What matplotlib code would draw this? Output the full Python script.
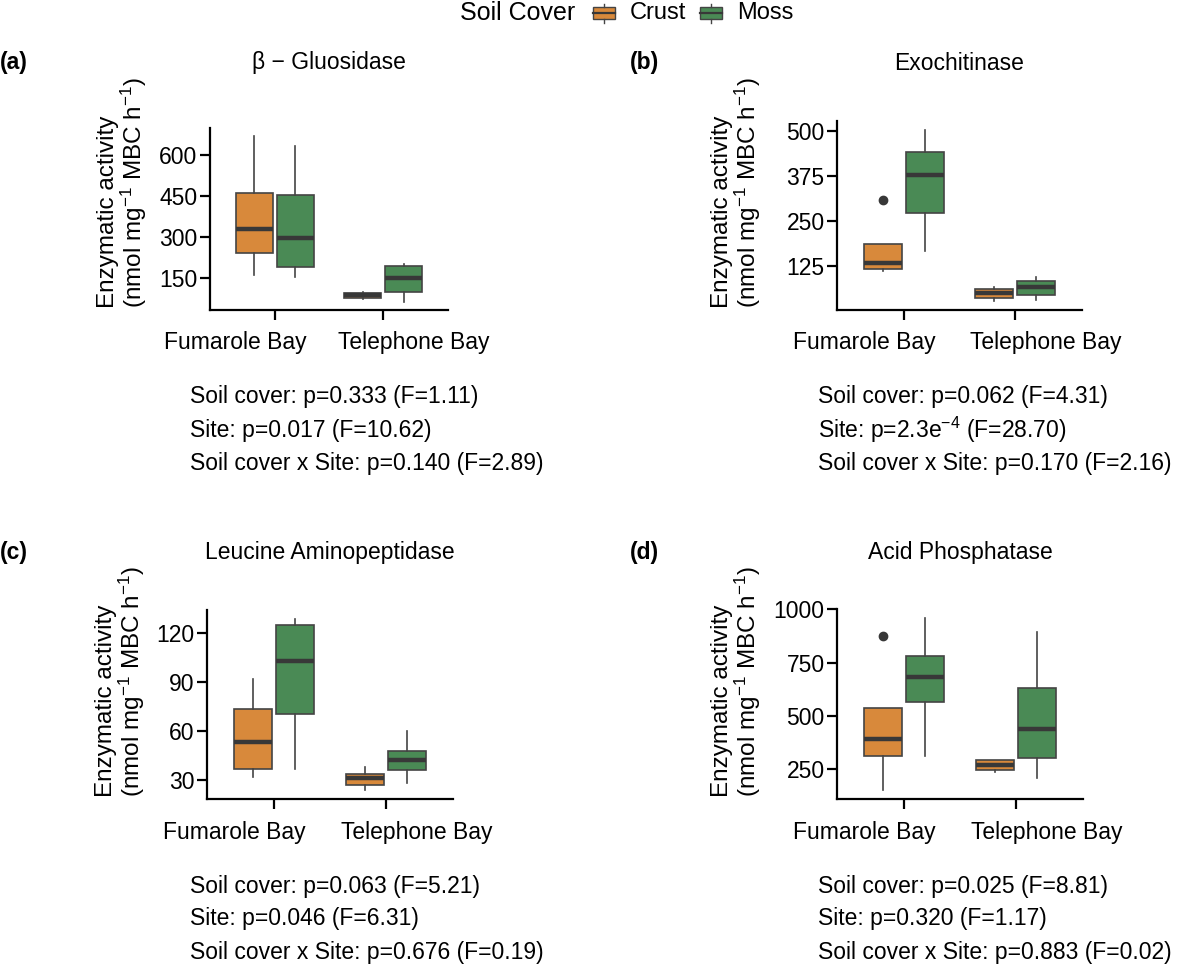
import matplotlib
matplotlib.use("Agg")
import matplotlib.pyplot as plt
from matplotlib.patches import Rectangle
from matplotlib.lines import Line2D

plt.rcParams.update({
    "font.family": ["Liberation Sans", "DejaVu Sans"],
    "mathtext.fontset": "custom", "mathtext.rm": "Liberation Sans",
    "mathtext.default": "regular",
    "axes.linewidth": 1.6,
    "figure.facecolor": "white",
})
CRUST = "#D8893B"; MOSS = "#4A8A55"; EDGE = "#444444"; MED = "#383838"

sites = ["Fumarole Bay", "Telephone Bay"]
covers = ["Crust", "Moss"]

# box stats per panel, order: Crust-Fum, Moss-Fum, Crust-Tel, Moss-Tel
# (whislo, q1, med, q3, whishi)
gluc_stats = [(160, 241, 329, 460, 670), (154, 188, 297, 455, 634),
              (72, 76, 85, 95, 98), (62, 97, 151, 193, 200)]
gluc_fliers = [[], [], [], []]
chit_stats = [(109, 116, 132, 186, 186), (165, 273, 379, 441, 505),
              (25, 34, 48, 60, 65), (28, 42, 65, 81.5, 93)]
chit_fliers = [[309], [], [], []]
leu_stats = [(31.6, 36.4, 52.8, 73.6, 91.8), (36.4, 70.3, 102.5, 125.1, 128.8),
             (23.4, 26.9, 31.0, 33.7, 37.8), (27.9, 36.0, 41.9, 47.7, 60.0)]
leu_fliers = [[], [], [], []]
phos_stats = [(152, 313, 393, 538, 538), (315, 567, 685, 781, 961),
              (239, 247, 270, 294, 294), (212, 305, 439, 630, 896)]
phos_fliers = [[874], [], [], []]

gluc_ticks = [150, 300, 450, 600]
chit_ticks = [125, 250, 375, 500]
leu_ticks = [30, 60, 90, 120]
phos_ticks = [250, 500, 750, 1000]

titles = ["β − Gluosidase", "Exochitinase", "Leucine Aminopeptidase", "Acid Phosphatase"]
tags = ["(a)", "(b)", "(c)", "(d)"]
stats_text = [
    ["Soil cover: p=0.333 (F=1.11)", "Site: p=0.017 (F=10.62)",
     "Soil cover x Site: p=0.140 (F=2.89)"],
    ["Soil cover: p=0.062 (F=4.31)", "Site: p=2.3e$^{-4}$ (F=28.70)",
     "Soil cover x Site: p=0.170 (F=2.16)"],
    ["Soil cover: p=0.063 (F=5.21)", "Site: p=0.046 (F=6.31)",
     "Soil cover x Site: p=0.676 (F=0.19)"],
    ["Soil cover: p=0.025 (F=8.81)", "Site: p=0.320 (F=1.17)",
     "Soil cover x Site: p=0.883 (F=0.02)"],
]
ylab = "Enzymatic activity\n(nmol mg$^{-1}$ MBC h$^{-1}$)"

W, H = 1200, 965
# axes boxes in pixels: left, top, right, bottom
boxes_px = [(210, 128, 448, 310), (837, 121, 1082, 310),
            (207, 610, 453, 799), (837, 609, 1083, 799)]
# site labels sit a little off their ticks in the original layout
label_shift = [-40, 31]


def px(x, y):
    return x / W, 1 - y / H


def draw(ax, stats, fliers, ticks):
    bx = []
    pos = []
    cols = []
    for i, (s, fl) in enumerate(zip(stats, fliers)):
        lo, q1, med, q3, hi = s
        bx.append(dict(whislo=lo, q1=q1, med=med, q3=q3, whishi=hi, fliers=fl))
        pos.append(1 + i // 2 + (-0.19 if i % 2 == 0 else 0.19))
        cols.append(CRUST if i % 2 == 0 else MOSS)
    art = ax.bxp(bx, positions=pos, widths=0.34, patch_artist=True, showcaps=False,
                 boxprops=dict(edgecolor=EDGE, linewidth=1.2),
                 whiskerprops=dict(color=EDGE, linewidth=1.2),
                 medianprops=dict(color=MED, linewidth=3.2, solid_capstyle="butt"),
                 flierprops=dict(marker="o", markerfacecolor=MED, markeredgecolor=MED,
                                 markersize=6))
    for p, c in zip(art["boxes"], cols):
        p.set_facecolor(c)
    allv = [v for s in stats for v in s] + [v for fl in fliers for v in fl]
    lo, hi = min(allv), max(allv)
    pad = 0.05 * (hi - lo)
    ax.set_ylim(lo - pad, hi + pad)
    ax.set_xlim(0.4, 2.6)
    ax.set_xticks([1, 2])
    ax.set_xticklabels([])
    for x, name, dx in zip([1, 2], sites, label_shift):
        ax.annotate(name, xy=(x, 0), xycoords=("data", "axes fraction"),
                    xytext=(dx, -33), textcoords="offset pixels",
                    ha="center", va="center", fontsize=16.5)
    ax.set_yticks(ticks)
    for sp in ("top", "right"):
        ax.spines[sp].set_visible(False)
    ax.tick_params(axis="both", length=7, width=1.6, labelsize=16.5, color="black")
    ax.tick_params(axis="y", pad=2)


fig = plt.figure(figsize=(12, 9.65), dpi=100)
panels = [(gluc_stats, gluc_fliers, gluc_ticks), (chit_stats, chit_fliers, chit_ticks),
          (leu_stats, leu_fliers, leu_ticks), (phos_stats, phos_fliers, phos_ticks)]
ylab_x = [123, 737, 121, 737]
for k, ((l, t, r, b), (st, fl, tk)) in enumerate(zip(boxes_px, panels)):
    x0, y0 = px(l, b)
    ax = fig.add_axes([x0, y0, (r - l) / W, (b - t) / H])
    draw(ax, st, fl, tk)
    ty = 63 if k < 2 else 552
    fig.text(*px((l + r) / 2, ty), titles[k], ha="center", va="center", fontsize=16.5)
    fig.text(*px(0 if k % 2 == 0 else 630, ty), tags[k], ha="left", va="center",
             fontsize=16.5, fontweight="bold")
    fig.text(*px(ylab_x[k], b - 2), ylab, rotation=90, ha="center", va="bottom",
             multialignment="left", fontsize=17.5, linespacing=1.0)
    tx = 190 if k % 2 == 0 else 818
    for j, line in enumerate(stats_text[k]):
        fig.text(*px(tx, b + 87 + 33 * j), line, ha="left", va="center", fontsize=16.5)

# legend at top
fig.text(*px(460, 13), "Soil Cover", ha="left", va="center", fontsize=18)
for kx, col, name in ((593, CRUST, "Crust"), (700, MOSS, "Moss")):
    x0, y0 = px(kx, 19)
    fig.patches.append(Rectangle((x0, y0), 22 / W, 12 / H, transform=fig.transFigure,
                                 facecolor=col, edgecolor=EDGE, linewidth=1.0))
    xm = (kx + 11) / W
    fig.lines.append(Line2D([xm, xm], [1 - 4 / H, 1 - 7 / H], transform=fig.transFigure,
                            color=EDGE, lw=1.0))
    fig.lines.append(Line2D([xm, xm], [1 - 19 / H, 1 - 23 / H], transform=fig.transFigure,
                            color=EDGE, lw=1.0))
    fig.lines.append(Line2D([x0, x0 + 22 / W], [1 - 13 / H, 1 - 13 / H],
                            transform=fig.transFigure, color=MED, lw=1.6))
    fig.text(*px(kx + 37, 13), name, ha="left", va="center", fontsize=17)

fig.savefig("out.png", dpi=100)
